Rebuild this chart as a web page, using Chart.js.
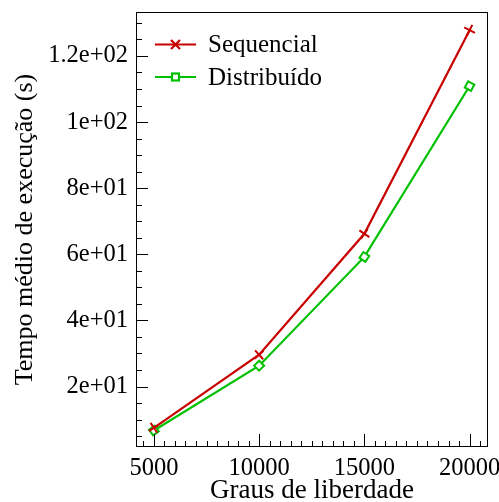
<!DOCTYPE html>
<html>
<head>
<meta charset="utf-8">
<script src="https://cdn.jsdelivr.net/npm/chart.js"></script>
<style>
  html, body { margin: 0; padding: 0; background: #ffffff; }
  #wrap { width: 499px; height: 502px; }
</style>
</head>
<body>
<div id="wrap"><canvas id="chart" width="499" height="502"></canvas></div>
<script>
// data
const graus = [5000, 10000, 15000, 20000];
const sequencial = [7.5, 29.6, 66.2, 127.8];
const distribuido = [6.7, 26.3, 59.2, 110.9];
const xTicks = [5000, 10000, 15000, 20000];
const yTicks = [20, 40, 60, 80, 100, 120];
const yTickLabels = ['2e+01', '4e+01', '6e+01', '8e+01', '1e+02', '1.2e+02'];
const seriesNames = ['Sequencial', 'Distribuído'];

const RED = '#c80000';
const GREEN = '#00c000';
const FONT = '"Liberation Serif", "Times New Roman", serif';

// markers turn with the line direction
const rotSeq = [-34, -42, -56, -63];
const rotDist = [-36, -44, -56, -62];

// inward ticks, box, and the legend with line + marker
const framePlugin = {
    id: 'frame',
    afterDraw(chart) {
        const ctx = chart.ctx;
        const a = chart.chartArea;
        const xs = chart.scales.x;
        const ys = chart.scales.y;
        ctx.save();
        ctx.strokeStyle = '#000';
        ctx.lineWidth = 1;
        ctx.strokeRect(a.left + 0.5, a.top + 0.5, a.right - a.left - 1, a.bottom - a.top - 1);

        ctx.beginPath();
        for (let v = 4500; v <= 20500; v += 500) {
            if (v < xs.min || v > xs.max) continue;
            const px = Math.round(xs.getPixelForValue(v)) + 0.5;
            const len = v % 5000 === 0 ? 13 : 6;
            ctx.moveTo(px, a.bottom);
            ctx.lineTo(px, a.bottom - len);
        }
        for (let v = 5; v <= 130; v += 5) {
            if (v < ys.min || v > ys.max) continue;
            const py = Math.round(ys.getPixelForValue(v)) + 0.5;
            const len = v % 20 === 0 ? 12 : 6;
            ctx.moveTo(a.left, py);
            ctx.lineTo(a.left + len, py);
        }
        ctx.stroke();

        // legend
        const items = [
            { name: seriesNames[0], color: RED, y: 44.5, mark: 'x' },
            { name: seriesNames[1], color: GREEN, y: 77, mark: 'sq' }
        ];
        ctx.font = '25px ' + FONT;
        ctx.textBaseline = 'middle';
        ctx.textAlign = 'left';
        items.forEach(it => {
            ctx.strokeStyle = it.color;
            ctx.lineWidth = 2.2;
            ctx.beginPath();
            ctx.moveTo(155, it.y);
            ctx.lineTo(196, it.y);
            ctx.stroke();
            const cx = 175.5;
            if (it.mark === 'x') {
                ctx.beginPath();
                ctx.moveTo(cx - 4.5, it.y - 4.5);
                ctx.lineTo(cx + 4.5, it.y + 4.5);
                ctx.moveTo(cx - 4.5, it.y + 4.5);
                ctx.lineTo(cx + 4.5, it.y - 4.5);
                ctx.stroke();
            } else {
                ctx.fillStyle = '#fff';
                ctx.fillRect(cx - 3.5, it.y - 3.5, 7, 7);
                ctx.strokeRect(cx - 3.5, it.y - 3.5, 7, 7);
            }
            ctx.fillStyle = '#000';
            ctx.fillText(it.name, 208, it.y + 1);
        });
        ctx.restore();
    }
};

new Chart(document.getElementById('chart'), {
    type: 'line',
    data: {
        labels: graus,
        datasets: [
            {
                label: seriesNames[0],
                data: graus.map((g, i) => ({ x: g, y: sequencial[i] })),
                borderColor: RED,
                borderWidth: 2.2,
                pointStyle: 'cross',
                pointRadius: 6,
                pointBorderWidth: 2,
                pointBorderColor: RED,
                pointRotation: rotSeq,
                fill: false,
                tension: 0
            },
            {
                label: seriesNames[1],
                data: graus.map((g, i) => ({ x: g, y: distribuido[i] })),
                borderColor: GREEN,
                borderWidth: 2.2,
                pointStyle: 'rect',
                pointRadius: 5,
                pointBorderWidth: 2,
                pointBorderColor: GREEN,
                pointBackgroundColor: '#ffffff',
                pointRotation: rotDist,
                fill: false,
                tension: 0
            }
        ]
    },
    options: {
        responsive: false,
        animation: false,
        devicePixelRatio: 1,
        layout: { padding: { top: 12, right: 11, left: 0, bottom: 0 } },
        plugins: {
            legend: { display: false },
            tooltip: { enabled: false }
        },
        scales: {
            x: {
                type: 'linear',
                min: 4150,
                max: 20875,
                grid: { display: false, drawTicks: false },
                border: { display: false },
                afterBuildTicks: s => { s.ticks = xTicks.map(v => ({ value: v })); },
                afterFit: s => { s.height = 55; s.paddingLeft = 0; s.paddingRight = 0; },
                ticks: {
                    padding: 7,
                    color: '#000',
                    font: { family: FONT, size: 24.5 },
                    maxRotation: 0,
                    callback: v => String(v)
                },
                title: {
                    display: true,
                    text: 'Graus de liberdade',
                    color: '#000',
                    font: { family: FONT, size: 27, lineHeight: 1 },
                    padding: { top: 0, bottom: -2 }
                }
            },
            y: {
                min: 1.7,
                max: 133.3,
                grid: { display: false, drawTicks: false },
                border: { display: false },
                afterBuildTicks: s => { s.ticks = yTicks.map(v => ({ value: v })); },
                afterFit: s => { s.width = 136; s.paddingTop = 0; s.paddingBottom = 0; },
                ticks: {
                    padding: 8,
                    color: '#000',
                    font: { family: FONT, size: 24.5 },
                    callback: v => yTickLabels[yTicks.indexOf(v)]
                },
                title: {
                    display: true,
                    text: 'Tempo médio de execução (s)',
                    color: '#000',
                    font: { family: FONT, size: 26, lineHeight: 1 },
                    padding: { top: 12, bottom: 0 }
                }
            }
        }
    },
    plugins: [framePlugin]
});
</script>
</body>
</html>
